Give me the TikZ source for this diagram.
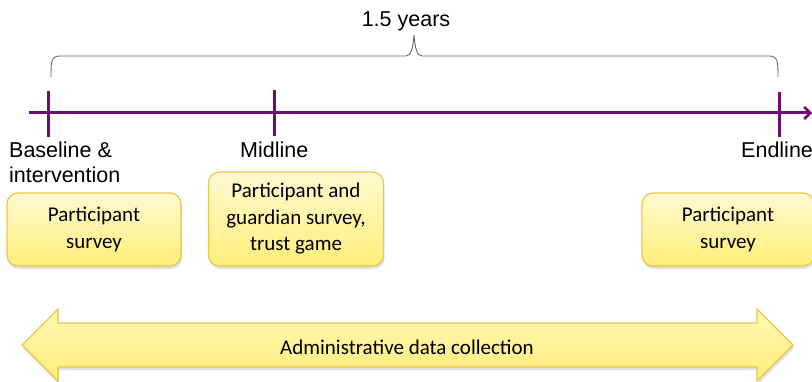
\documentclass[tikz,border=0pt]{standalone}
\usepackage{fontspec}
\setmainfont{Liberation Sans}
\newfontfamily\calib{Carlito}
\usetikzlibrary{arrows.meta,shadows,positioning}
\definecolor{tlpurple}{HTML}{6E0E72}
\definecolor{ytop}{HTML}{FFFAD2}
\definecolor{ybot}{HTML}{FFEE78}
\definecolor{yborder}{HTML}{E8C64A}
\definecolor{bracegray}{HTML}{666666}
\tikzset{
  tick/.style={draw=tlpurple, line width=3pt},
  tlabel/.style={font=\fontsize{21.5}{25}\selectfont, inner sep=0pt, text=black},
  ybox/.style={draw=yborder, line width=1.2pt, rounded corners=11pt,
    top color=ytop, bottom color=ybot, align=center,
    font=\calib\fontsize{21}{26.5}\selectfont, text=black,
    drop shadow={shadow xshift=1pt, shadow yshift=-3pt, opacity=0.2, fill=black!60}},
  bigarrow/.style={draw=yborder, line width=1.2pt, top color=ytop!70!ybot, bottom color=ybot,
    drop shadow={shadow xshift=1pt, shadow yshift=-3pt, opacity=0.2, fill=black!60}},
}
\begin{document}
\begin{tikzpicture}[x=1pt,y=-1pt]
\useasboundingbox (0,0) rectangle (812,382);
% timeline
\coordinate (tstart) at (29,113);
\coordinate (tend) at (812,113);
\draw[draw=tlpurple, line width=3pt, -{Straight Barb[length=6pt,width=12pt,line width=2.5pt]}] (tstart) -- (tend);
\coordinate (b1) at (48,91); \coordinate (b2) at (48,137);
\coordinate (m1) at (274,90); \coordinate (m2) at (274,136);
\coordinate (e1) at (779,92); \coordinate (e2) at (779,137);
\draw[tick] (b1) -- (b2);
\draw[tick] (m1) -- (m2);
\draw[tick] (e1) -- (e2);
% brace
\draw[bracegray, line width=0.9pt] (51,77) .. controls (51,62) and (51,56) .. (60,56) -- (406,56)
  .. controls (411,56) and (413,48) .. (414,35) .. controls (415,48) and (417,56) .. (422,56)
  -- (769,56) .. controls (778,56) and (778,62) .. (778,77);
\node[tlabel, anchor=base] (years) at (406,27) {1.5 years};
% labels
\node[tlabel, anchor=base west] (base) at (9,158) {Baseline \&};
\node[tlabel, anchor=base west] (interv) at (9,183) {intervention};
\node[tlabel, anchor=base west] (mid) at (240,158) {Midline};
\node[tlabel, anchor=base west] (end) at (741,158) {Endline};
% boxes
\node[ybox, minimum width=174pt, minimum height=73pt] (box1) at (94,229.5) {\raisebox{-3pt}{Participant}\\\raisebox{-3pt}{survey}};
\node[ybox, minimum width=175pt, minimum height=94pt] (box2) at (296,219) {Participant and\\guardian survey,\\trust game};
\node[ybox, minimum width=172pt, minimum height=73pt] (box3) at (728,229.5) {\raisebox{-3pt}{Participant}\\\raisebox{-3pt}{survey}};
% big arrow
\draw[bigarrow] (22,345) -- (58,309) -- (58,323) -- (757,323) -- (757,309) -- (793,345)
  -- (757,381) -- (757,367) -- (58,367) -- (58,381) -- cycle;
\node[font=\calib\fontsize{21}{25}\selectfont, text=black] (admin) at (407,347) {Administrative data collection};
\end{tikzpicture}
\end{document}
